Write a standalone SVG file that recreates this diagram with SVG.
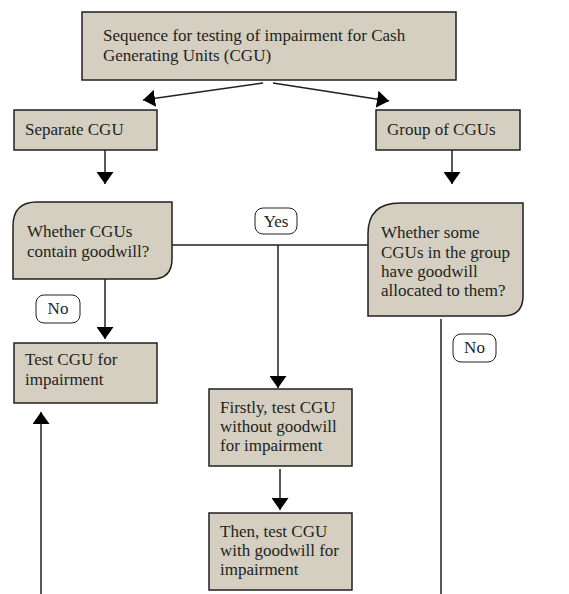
<svg xmlns="http://www.w3.org/2000/svg" width="569" height="594" viewBox="0 0 569 594">
<style>
.box{fill:#d4cfc1;stroke:#231f20;stroke-width:1.5}
.lbl{fill:#fff;stroke:#231f20;stroke-width:1}
.t{font-family:"Liberation Serif",serif;font-size:17px;fill:#231f20}
.c{stroke:#231f20;stroke-width:1.5;fill:none}
</style>
<defs>
<marker id="ah" markerWidth="13" markerHeight="17" refX="12" refY="8.5" orient="auto" markerUnits="userSpaceOnUse">
<path d="M0,0 L12,8.5 L0,17 Z" fill="#000"/>
</marker>
</defs>
<g id="connectors">
<line class="c" x1="263" y1="83" x2="143" y2="100" marker-end="url(#ah)"/>
<line class="c" x1="273" y1="83" x2="389" y2="101" marker-end="url(#ah)"/>
<line class="c" x1="105" y1="150" x2="105" y2="184" marker-end="url(#ah)"/>
<line class="c" x1="452" y1="150" x2="452" y2="184" marker-end="url(#ah)"/>
<line class="c" x1="172" y1="245" x2="368" y2="245"/>
<line class="c" x1="278" y1="245" x2="278" y2="388" marker-end="url(#ah)"/>
<line class="c" x1="105" y1="279" x2="105" y2="339" marker-end="url(#ah)"/>
<line class="c" x1="441" y1="319" x2="441" y2="594"/>
<line class="c" x1="41" y1="594" x2="41" y2="412" marker-end="url(#ah)"/>
<line class="c" x1="280" y1="469" x2="280" y2="510" marker-end="url(#ah)"/>
</g>
<g id="n-top">
<rect class="box" x="82" y="12" width="374" height="68"/>
<text class="t" x="103" y="41">Sequence for testing of impairment for Cash</text>
<text class="t" x="103" y="61">Generating Units (CGU)</text>
</g>
<g id="n-separate">
<rect class="box" x="14" y="110" width="143" height="40"/>
<text class="t" x="25" y="135">Separate CGU</text>
</g>
<g id="n-group">
<rect class="box" x="376" y="110" width="144" height="40"/>
<text class="t" x="387" y="135">Group of CGUs</text>
</g>
<g id="n-dec-left">
<path class="box" d="M13,279 L13,226 Q13,202 37,202 L172,202 L172,259 Q172,279 152,279 Z"/>
<text class="t" x="27" y="237">Whether CGUs</text>
<text class="t" x="27" y="257">contain goodwill?</text>
</g>
<g id="n-dec-right">
<path class="box" d="M368,316 L368,234 Q368,203 400,203 L523,203 L523,296 Q523,316 503,316 Z"/>
<text class="t" x="381" y="238">Whether some</text>
<text class="t" x="381" y="258">CGUs in the group</text>
<text class="t" x="381" y="277">have goodwill</text>
<text class="t" x="381" y="296">allocated to them?</text>
</g>
<g id="n-yes">
<rect class="lbl" x="255" y="208" width="42" height="26" rx="8"/>
<text class="t" x="276" y="227" text-anchor="middle">Yes</text>
</g>
<g id="n-no-left">
<rect class="lbl" x="36" y="295" width="44" height="28" rx="8"/>
<text class="t" x="58" y="314" text-anchor="middle">No</text>
</g>
<g id="n-no-right">
<rect class="lbl" x="453" y="334" width="43" height="28" rx="8"/>
<text class="t" x="474.5" y="353" text-anchor="middle">No</text>
</g>
<g id="n-test">
<rect class="box" x="14" y="343" width="143" height="60"/>
<text class="t" x="25" y="365">Test CGU for</text>
<text class="t" x="25" y="385">impairment</text>
</g>
<g id="n-firstly">
<rect class="box" x="209" y="389" width="143" height="77"/>
<text class="t" x="220" y="413">Firstly, test CGU</text>
<text class="t" x="220" y="432">without goodwill</text>
<text class="t" x="220" y="451">for impairment</text>
</g>
<g id="n-then">
<rect class="box" x="209" y="513" width="143" height="77"/>
<text class="t" x="220" y="537">Then, test CGU</text>
<text class="t" x="220" y="556">with goodwill for</text>
<text class="t" x="220" y="575">impairment</text>
</g>
</svg>
